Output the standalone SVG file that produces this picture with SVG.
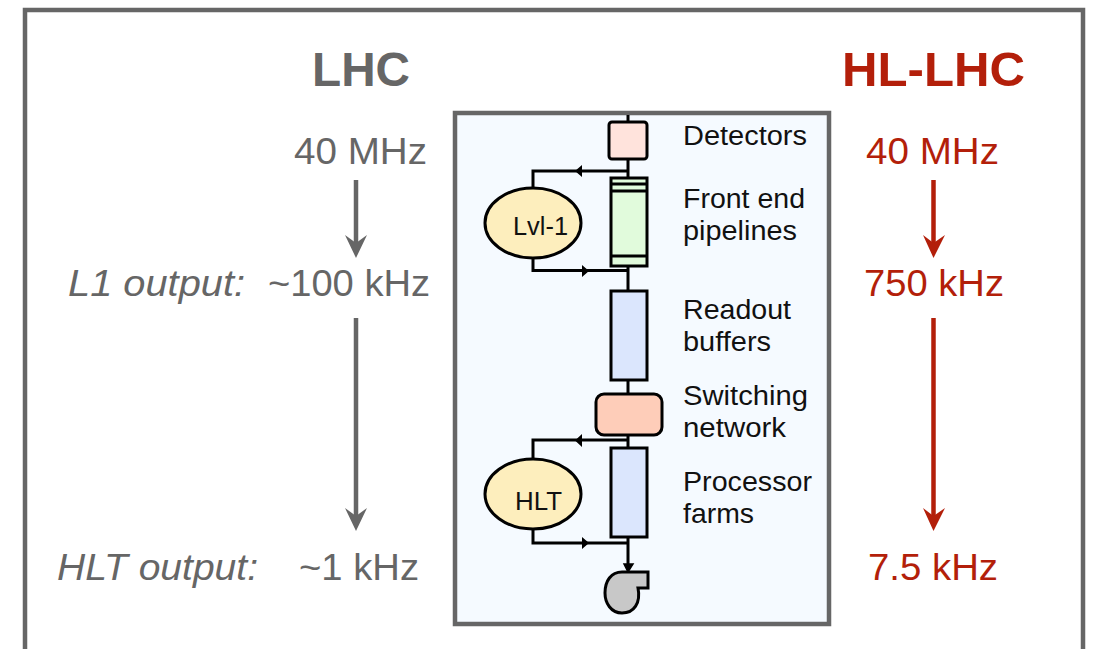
<svg xmlns="http://www.w3.org/2000/svg" width="1096" height="649" viewBox="0 0 1096 649">
<style>
text{font-family:"Liberation Sans",Arial,sans-serif}
.g{fill:#666}.r{fill:#b31f0a}
.big{font-size:36px}
.h{font-size:48px;font-weight:bold}
.it{font-size:36px;font-style:italic}
.lab{font-size:27.5px;fill:#111}
.box{stroke:#000;stroke-width:3}
.w{fill:none;stroke:#000;stroke-width:3}
.ga{stroke:#666;stroke-width:4.5;fill:none}
.ra{stroke:#b31f0a;stroke-width:4.5;fill:none}
</style>
<rect width="1096" height="649" fill="#fff"/>
<path d="M25 649V10H1083V649" fill="none" stroke="#666" stroke-width="4.5"/>
<g id="titles">
<text class="h g" x="312" y="86" textLength="98" lengthAdjust="spacingAndGlyphs">LHC</text>
<text class="h r" x="842" y="86" textLength="183" lengthAdjust="spacingAndGlyphs">HL-LHC</text>
</g>
<g id="rates-lhc">
<text class="big g" x="294" y="164" textLength="133" lengthAdjust="spacingAndGlyphs">40 MHz</text>
<text class="it g" x="68" y="296" textLength="177" lengthAdjust="spacingAndGlyphs">L1 output:</text>
<text class="big g" x="268" y="296" textLength="162" lengthAdjust="spacingAndGlyphs">~100 kHz</text>
<text class="it g" x="57" y="580" textLength="201" lengthAdjust="spacingAndGlyphs">HLT output:</text>
<text class="big g" x="299" y="580" textLength="120" lengthAdjust="spacingAndGlyphs">~1 kHz</text>
</g>
<g id="rates-hl">
<text class="big r" x="866" y="164" textLength="133" lengthAdjust="spacingAndGlyphs">40 MHz</text>
<text class="big r" x="864" y="296" textLength="140" lengthAdjust="spacingAndGlyphs">750 kHz</text>
<text class="big r" x="868" y="580" textLength="130" lengthAdjust="spacingAndGlyphs">7.5 kHz</text>
</g>
<g id="arrows-rate">
<path class="ga" d="M356 180V245"/><path d="M345 235L356 243L367 235L356 258Z" fill="#666"/>
<path class="ga" d="M356 318V518"/><path d="M345 508L356 516L367 508L356 531Z" fill="#666"/>
<path class="ra" d="M933.500 180V245"/><path d="M923 235L933.500 243L945 235L933.500 258Z" fill="#b31f0a"/>
<path class="ra" d="M933.500 318V518"/><path d="M923 508L933.500 516L945 508L933.500 531Z" fill="#b31f0a"/>
</g>
<g id="panel"><rect x="455" y="113" width="374" height="511" fill="#f5faff" stroke="#666" stroke-width="4.500"/></g>
<g id="connectors">
<path class="w" d="M628 115V122M628 160V177M628 267V291M628 381V394M628 436V447M628 538V566"/>
<path class="w" d="M628 171H533V188M628 270.500H533V253M628 440H533V459M628 543H533V527"/>
<path d="M575 171L582 165V177ZM589 271L582 265V277ZM575 440.500L582 434V447ZM589 543L582 537V549Z" fill="#000"/>
<path d="M624 564H633L628 572Z" fill="#000" stroke="#000" stroke-width="1.500"/>
</g>
<g id="detectors"><rect class="box" x="609" y="122" width="38" height="37" rx="3" fill="#ffe3dc"/><text class="lab" x="683" y="145" textLength="124" lengthAdjust="spacingAndGlyphs">Detectors</text></g>
<g id="pipelines"><rect class="box" x="611" y="178" width="36" height="88" fill="#e1fbdc"/><path class="w" d="M611 184H647M611 191H647M611 256H647"/><text class="lab" x="683" y="208" textLength="122" lengthAdjust="spacingAndGlyphs">Front end</text><text class="lab" x="683" y="240" textLength="114" lengthAdjust="spacingAndGlyphs">pipelines</text></g>
<g id="lvl1"><ellipse class="box" cx="533" cy="223" rx="48" ry="35" fill="#fdeebd"/><text x="513" y="235" font-size="26" fill="#111" textLength="55" lengthAdjust="spacingAndGlyphs">Lvl-1</text></g>
<g id="readout"><rect class="box" x="611" y="291" width="36" height="89" fill="#dbe6fd"/><text class="lab" x="683" y="319" textLength="108" lengthAdjust="spacingAndGlyphs">Readout</text><text class="lab" x="683" y="351" textLength="88" lengthAdjust="spacingAndGlyphs">buffers</text></g>
<g id="switching"><rect class="box" x="596" y="394" width="66" height="41" rx="8" fill="#fecdb9"/><text class="lab" x="683" y="405" textLength="125" lengthAdjust="spacingAndGlyphs">Switching</text><text class="lab" x="683" y="437" textLength="103" lengthAdjust="spacingAndGlyphs">network</text></g>
<g id="hlt"><ellipse class="box" cx="533" cy="494" rx="48" ry="35" fill="#fdeebd"/><text x="515" y="510" font-size="26" fill="#111" textLength="47" lengthAdjust="spacingAndGlyphs">HLT</text></g>
<g id="processor"><rect class="box" x="611" y="448" width="36" height="89" fill="#dbe6fd"/><text class="lab" x="683" y="491" textLength="129" lengthAdjust="spacingAndGlyphs">Processor</text><text class="lab" x="683" y="523" textLength="71" lengthAdjust="spacingAndGlyphs">farms</text></g>
<g id="storage"><path d="M622 572H648V588H638C641 603 634 613 622 613C611 613 605 603 605 593C605 581 611 572 622 572Z" fill="#c8c8c8" stroke="#000" stroke-width="3"/></g>
</svg>
